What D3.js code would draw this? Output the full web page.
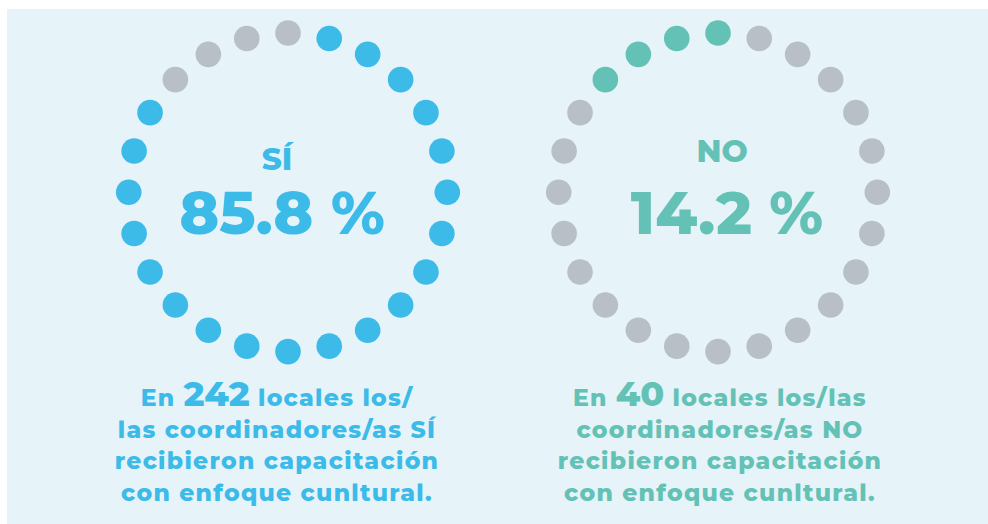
<!DOCTYPE html>
<head>
<meta charset="utf-8">
<style>
  body { margin: 0; background: #fff; }
  svg { display: block; }
  text { font-family: Montserrat, "DejaVu Sans", sans-serif; font-weight: 800; }
</style>
</head>
<body>
<script src="https://d3js.org/d3.v7.min.js"></script>
<script>
// data
var answers = ["SÍ", "NO"];
var percents = [85.8, 14.2];
var locales = [242, 40];
var dotsTotal = 24;
var dotsOn = [20, 4];          // coloured dots per answer
var dotsStart = [1, 21];       // first coloured dot, clockwise from top
var captionHead = ["En ", "En "];
var captionTail = [" locales los/", " locales los/las"];
var captionRest = [
  ["las coordinadores/as SÍ", "recibieron capacitación", "con enfoque cunltural."],
  ["coordinadores/as NO", "recibieron capacitación", "con enfoque cunltural."]
];
var colors = ["#3cbbe9", "#63c2b5"];
var grey = "#b8bfc7";

(function() {
  var W = 988, H = 524,
      cy = 192.3, R = 159.3, dotR = 12.8,
      textX = [277, 722],
      labelY = [170, 162],
      pctY = 234,
      capY = 406, capStep = 31.5;

  var svg = d3.select("body").append("svg")
    .attr("width", W).attr("height", H);

  svg.append("rect")
    .attr("x", 7).attr("y", 9)
    .attr("width", W - 7).attr("height", H - 9)
    .attr("fill", "#e6f3f9");

  var cx = d3.scalePoint().domain(answers).range([288, 718]);
  var ang = d3.scaleLinear().domain([0, dotsTotal]).range([0, 2 * Math.PI]);

  var idx = d3.range(dotsTotal);

  answers.forEach(function(a, k) {
    var g = svg.append("g");

    g.selectAll("circle")
      .data(idx)
      .enter().append("circle")
      .attr("cx", function(i) { return cx(a) + R * Math.sin(ang(i)); })
      .attr("cy", function(i) { return cy - R * Math.cos(ang(i)); })
      .attr("r", dotR)
      .attr("fill", function(i) {
        var d = (i - dotsStart[k] + dotsTotal) % dotsTotal;
        return d < dotsOn[k] ? colors[k] : grey;
      });

    g.append("text")
      .attr("x", textX[k]).attr("y", labelY[k])
      .attr("text-anchor", "middle")
      .attr("font-size", 31)
      .attr("font-weight", "bold")
      .attr("fill", colors[k])
      .text(a);

    g.append("text")
      .attr("x", textX[k] + 5).attr("y", pctY)
      .attr("text-anchor", "middle")
      .attr("font-size", 60)
      .attr("fill", colors[k])
      .text(d3.format(".1f")(percents[k]) + " %");

    var cap = g.append("g")
      .attr("fill", colors[k])
      .attr("text-anchor", "middle")
      .attr("font-size", 23.5)
      .attr("letter-spacing", 1.3);

    var first = cap.append("text")
      .attr("x", textX[k] - (k ? 2 : 0)).attr("y", capY);
    first.append("tspan").text(captionHead[k]);
    first.append("tspan").attr("font-size", 35).attr("letter-spacing", 0).text(locales[k]);
    first.append("tspan").text(captionTail[k]);

    cap.selectAll("text.rest")
      .data(captionRest[k])
      .enter().append("text")
      .attr("class", "rest")
      .attr("x", textX[k] - (k ? 2 : 0))
      .attr("y", function(d, i) { return capY + capStep * (i + 1); })
      .text(function(d) { return d; });
  });
})();
</script>
</body>
